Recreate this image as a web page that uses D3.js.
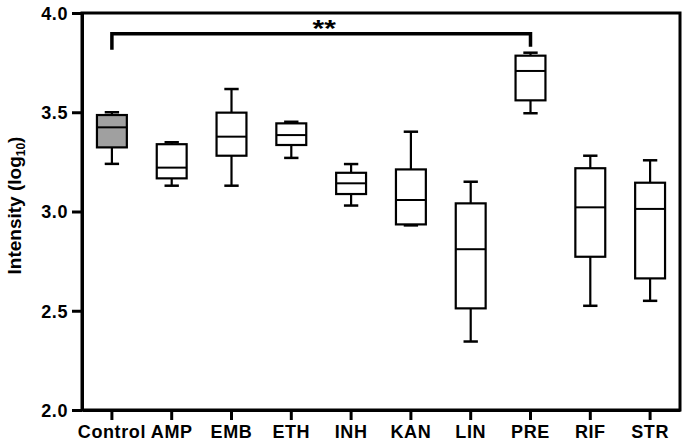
<!DOCTYPE html>
<html>
<head>
<meta charset="utf-8">
<script src="https://cdn.jsdelivr.net/npm/d3@7"></script>
<style>
  body { margin: 0; background: #fff; }
  text { font-family: "Liberation Sans", Arial, sans-serif; font-weight: bold; }
</style>
</head>
<body>
<svg id="chart" width="685" height="443"></svg>
<script>
// box plot values
const groups = ['Control', 'AMP', 'EMB', 'ETH', 'INH', 'KAN', 'LIN', 'PRE', 'RIF', 'STR'];
const mins    = [3.24, 3.13, 3.13, 3.27, 3.03, 2.93, 2.345, 3.495, 2.525, 2.55];
const q1s     = [3.323, 3.167, 3.281, 3.335, 3.088, 2.935, 2.512, 3.56, 2.772, 2.663];
const medians = [3.424, 3.221, 3.377, 3.385, 3.142, 3.058, 2.81, 3.708, 3.021, 3.013];
const q3s     = [3.486, 3.339, 3.498, 3.444, 3.195, 3.212, 3.041, 3.785, 3.218, 3.145];
const maxs    = [3.50, 3.349, 3.617, 3.452, 3.239, 3.402, 3.15, 3.80, 3.281, 3.258];
const yTicks  = [2.0, 2.5, 3.0, 3.5, 4.0];

const svg = d3.select('#chart');
const margin = { top: 13, right: 5, bottom: 33, left: 82 };
const width = 685, height = 443;

const x = d3.scaleBand().domain(groups).range([margin.left, width - margin.right]);
const y = d3.scaleLinear().domain([2, 4]).range([height - margin.bottom, margin.top]);

const boxes = groups.map((g, i) => ({ g, min: mins[i], q1: q1s[i], med: medians[i], q3: q3s[i], max: maxs[i] }));

// frame
svg.append('rect')
  .attr('x', margin.left).attr('y', margin.top)
  .attr('width', width - margin.right - margin.left)
  .attr('height', height - margin.bottom - margin.top)
  .attr('fill', 'none').attr('stroke', '#000').attr('stroke-width', 3);

// axes
const yAxis = svg.append('g')
  .attr('transform', `translate(${margin.left},0)`)
  .call(d3.axisLeft(y).tickValues(yTicks).tickFormat(d3.format('.1f')).tickSize(10).tickSizeOuter(0));
yAxis.select('.domain').attr('stroke-width', 3);
yAxis.selectAll('.tick line').attr('stroke-width', 3);
yAxis.selectAll('.tick text').attr('font-size', 18).attr('letter-spacing', 0.6)
  .attr('fill', '#000').attr('dx', '-1').attr('dy', '0.36em');

const xAxis = svg.append('g')
  .attr('transform', `translate(0,${height - margin.bottom})`)
  .call(d3.axisBottom(x).tickSize(10).tickSizeOuter(0));
xAxis.select('.domain').attr('stroke-width', 3);
xAxis.selectAll('.tick line').attr('stroke-width', 3);
xAxis.selectAll('.tick text').attr('font-size', 18).attr('letter-spacing', 0.6)
  .attr('fill', '#000').attr('dy', '0.85em');

// boxes
const bw = x.bandwidth() * 0.5;
const cw = bw * 0.48;
const b = svg.append('g').selectAll('g').data(boxes).join('g')
  .attr('transform', d => `translate(${x(d.g) + x.bandwidth() / 2},0)`);

b.append('line').attr('y1', d => y(d.max)).attr('y2', d => y(d.q3))
  .attr('stroke', '#000').attr('stroke-width', 2.2);
b.append('line').attr('y1', d => y(d.q1)).attr('y2', d => y(d.min))
  .attr('stroke', '#000').attr('stroke-width', 2.2);
b.append('line').attr('x1', -cw / 2).attr('x2', cw / 2).attr('y1', d => y(d.max)).attr('y2', d => y(d.max))
  .attr('stroke', '#000').attr('stroke-width', 2.5);
b.append('line').attr('x1', -cw / 2).attr('x2', cw / 2).attr('y1', d => y(d.min)).attr('y2', d => y(d.min))
  .attr('stroke', '#000').attr('stroke-width', 2.5);
b.append('rect')
  .attr('x', -bw / 2).attr('width', bw)
  .attr('y', d => y(d.q3)).attr('height', d => y(d.q1) - y(d.q3))
  .attr('fill', d => d.g === 'Control' ? '#a0a0a0' : '#fff')
  .attr('stroke', '#000').attr('stroke-width', 2.2);
b.append('line').attr('x1', -bw / 2).attr('x2', bw / 2).attr('y1', d => y(d.med)).attr('y2', d => y(d.med))
  .attr('stroke', '#000').attr('stroke-width', 2);

// significance bracket Control vs PRE
const xa = x('Control') + x.bandwidth() / 2, xb = x('PRE') + x.bandwidth() / 2;
const yBar = y(3.895);
svg.append('path')
  .attr('d', `M${xa},${y(3.815)}V${yBar}H${xb}V${y(3.83)}`)
  .attr('fill', 'none').attr('stroke', '#000').attr('stroke-width', 3.5);
svg.append('text')
  .attr('transform', `translate(${(xa + xb) / 2 + 3},${yBar + 3}) scale(1.3,1)`)
  .attr('text-anchor', 'middle').attr('font-size', 23).text('**');

// y label
svg.append('text')
  .attr('transform', `translate(21,${(margin.top + height - margin.bottom) / 2 - 6}) rotate(-90)`)
  .attr('text-anchor', 'middle').attr('font-size', 19)
  .text('Intensity (log')
  .append('tspan').attr('font-size', 12).attr('dy', 4).text('10')
  .select(function () { return this.parentNode; })
  .append('tspan').attr('dy', -4).text(')');
</script>
</body>
</html>
